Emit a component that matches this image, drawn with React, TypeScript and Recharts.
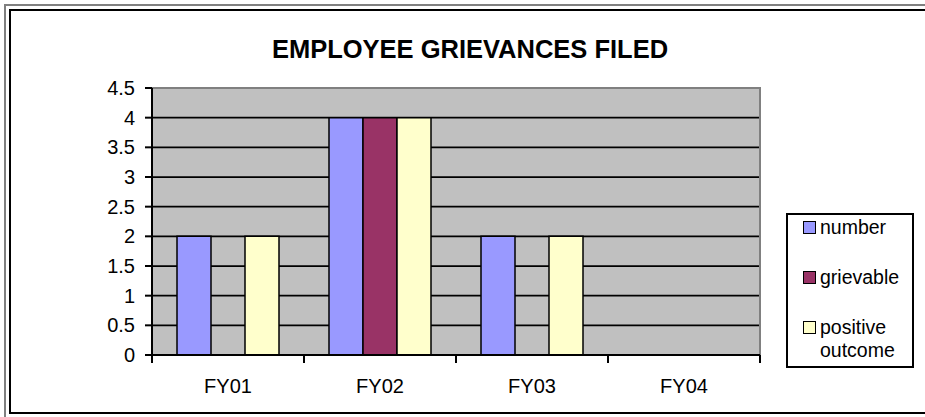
import { BarChart, Bar, XAxis, YAxis, CartesianGrid, ReferenceArea } from 'recharts';

const categories = ['FY01', 'FY02', 'FY03', 'FY04'];
const numberFiled = [2, 4, 2, 0];
const grievable = [0, 4, 0, 0];
const positiveOutcome = [2, 4, 2, 0];
const yTicks = [0, 0.5, 1, 1.5, 2, 2.5, 3, 3.5, 4, 4.5];
const seriesNames = ['number', 'grievable', 'positive outcome'];

const FONT = 'Arial, "Liberation Sans", sans-serif';
const X_TICK_SIZE = 8;
const X_TICK_MARGIN = 16;

const series = [
  { key: 'number', name: seriesNames[0], color: '#9999FF' },
  { key: 'grievable', name: seriesNames[1], color: '#993366' },
  { key: 'positive', name: seriesNames[2], color: '#FFFFCC' },
];

const data = categories.map((c, i) => ({
  category: c,
  number: numberFiled[i],
  grievable: grievable[i],
  positive: positiveOutcome[i],
}));

// tick marks sit on the category boundaries, labels in the middle
function CategoryTick(props: any) {
  const { x, y, payload, index, visibleTicksCount } = props;
  const half = payload?.offset ?? 0;
  const axisY = y - X_TICK_SIZE - X_TICK_MARGIN;
  return (
    <g>
      <line x1={x - half} x2={x - half} y1={axisY} y2={axisY + X_TICK_SIZE} stroke="#000" strokeWidth={2} />
      {index === visibleTicksCount - 1 && (
        <line x1={x + half} x2={x + half} y1={axisY} y2={axisY + X_TICK_SIZE} stroke="#000" strokeWidth={2} />
      )}
      <text x={x} y={y} dy="0.71em" textAnchor="middle" fill="#000" fontSize={20} fontFamily={FONT}>
        {payload.value}
      </text>
    </g>
  );
}

function Legend() {
  return (
    <div
      style={{
        position: 'absolute',
        left: 786,
        top: 213,
        width: 128,
        height: 155,
        boxSizing: 'border-box',
        border: '2px solid #000',
        background: '#fff',
        paddingTop: 1,
        paddingLeft: 15,
      }}
    >
      {series.map((s) => (
        <div key={s.key} style={{ display: 'flex', alignItems: 'flex-start', marginBottom: 27 }}>
          <div
            style={{
              width: 13,
              height: 13,
              marginTop: 5,
              boxSizing: 'border-box',
              border: '1.5px solid #000',
              background: s.color,
              flex: 'none',
            }}
          />
          <div style={{ marginLeft: 4, fontSize: 19.5, lineHeight: '23px', width: 90, color: '#000' }}>{s.name}</div>
        </div>
      ))}
    </div>
  );
}

export default function App() {
  return (
    <div
      style={{
        position: 'absolute',
        left: 0,
        top: 0,
        width: 925,
        height: 417,
        overflow: 'hidden',
        background: '#fff',
        fontFamily: FONT,
      }}
    >
      {/* double frame, cut off on the right like the source */}
      <div style={{ position: 'absolute', left: 4, top: 4, width: 1000, height: 1000, borderLeft: '2px solid #808080', borderTop: '2px solid #808080' }} />
      <div style={{ position: 'absolute', left: 9, top: 9, width: 1000, height: 405, boxSizing: 'border-box', border: '2px solid #000' }} />

      <div
        style={{
          position: 'absolute',
          left: 0,
          width: 940,
          top: 37,
          textAlign: 'center',
          fontSize: 25.5,
          lineHeight: '25px',
          fontWeight: 'bold',
          color: '#000',
        }}
      >
        EMPLOYEE GRIEVANCES FILED
      </div>

      <div style={{ position: 'absolute', left: 0, top: 0 }}>
        <BarChart
          width={925}
          height={417}
          data={data}
          margin={{ top: 88, right: 165, bottom: 0, left: 92 }}
          barCategoryGap={25}
          barGap={0}
          style={{ fontFamily: FONT }}
        >
          <CartesianGrid vertical={false} fill="#C0C0C0" fillOpacity={1} stroke="#000" strokeWidth={1.75} />
          <ReferenceArea
            x1={categories[0]}
            x2={categories[categories.length - 1]}
            y1={0}
            y2={4.5}
            fill="none"
            fillOpacity={0}
            stroke="#808080"
            strokeWidth={2}
          />
          <XAxis
            dataKey="category"
            height={62}
            tickLine={false}
            tickSize={X_TICK_SIZE}
            tickMargin={X_TICK_MARGIN}
            axisLine={{ stroke: '#000', strokeWidth: 2 }}
            tick={<CategoryTick />}
            interval={0}
          />
          <YAxis
            width={60}
            domain={[0, 4.5]}
            ticks={yTicks}
            interval={0}
            tickSize={7}
            tickMargin={10}
            axisLine={{ stroke: '#000', strokeWidth: 2 }}
            tickLine={{ stroke: '#000', strokeWidth: 2 }}
            tick={{ fill: '#000', fontSize: 20 }}
          />
          {series.map((s) => (
            <Bar
              key={s.key}
              dataKey={s.key}
              name={s.name}
              fill={s.color}
              stroke="#000"
              strokeWidth={1.5}
              isAnimationActive={false}
            />
          ))}
        </BarChart>
      </div>

      <Legend />
    </div>
  );
}
